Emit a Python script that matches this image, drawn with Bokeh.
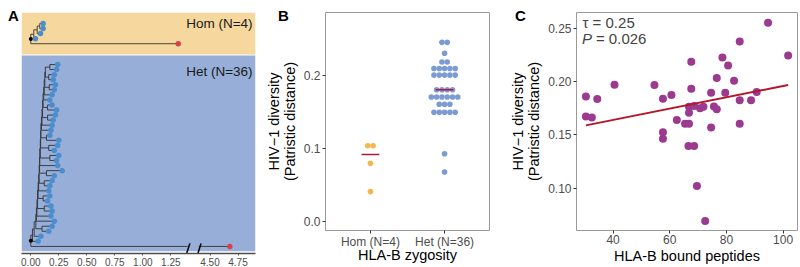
import numpy as np
from bokeh.plotting import figure
from bokeh.models import (Range1d, FixedTicker, CustomJSTickFormatter, Label,
                          NumeralTickFormatter, Div)
from bokeh.embed import file_html
from bokeh.resources import INLINE

FONT = "Liberation Sans"

# ---------------- Panel A: phylogenetic trees ----------------
hom_tip_dist = [0.110, 0.110, 0.087, 0.042]
hom_groups = [2, 1, 1]
hom_group_mrca = [0.080, None, None]
hom_spine = [0.057, 0.027]
hom_outgroup_dist = 1.316

het_tip_dist = [0.24, 0.23, 0.21, 0.20, 0.22, 0.21, 0.19, 0.17, 0.19, 0.23,
                0.22, 0.20, 0.19, 0.18, 0.17, 0.25, 0.24, 0.21, 0.25, 0.23,
                0.24, 0.28, 0.21, 0.19, 0.17, 0.16, 0.17, 0.15, 0.18, 0.19,
                0.18, 0.21, 0.19, 0.16, 0.09, 0.065]
het_groups = [2, 2, 2, 1, 1, 2, 2, 1, 1, 2, 2, 2, 1, 2, 2, 1, 2, 2, 1, 1, 2, 1, 1]
het_group_mrca = [0.17, 0.16, 0.165, None, None, 0.15, 0.15, None, None, 0.14,
                  0.16, 0.17, None, 0.14, 0.12, None, 0.11, 0.12, None, None,
                  0.10, None, None]
het_spine = [0.13, 0.125, 0.12, 0.115, 0.11, 0.105, 0.10, 0.095, 0.09, 0.088,
             0.085, 0.08, 0.078, 0.075, 0.07, 0.065, 0.06, 0.055, 0.05, 0.045,
             0.03, 0.015]
het_outgroup_dist = 4.677

tree_ticks = [0.0, 0.25, 0.5, 0.75, 1.0, 1.25, 4.5, 4.75]
band_labels = ["Hom (N=4)", "Het (N=36)"]
panel_letters = ["A", "B", "C"]

# ---------------- Panel B: dot plot ----------------
zyg_labels = ["Hom (N=4)", "Het (N=36)"]
hom_div = [0.104, 0.104, 0.080, 0.041]
het_div = [0.246, 0.246, 0.231, 0.219, 0.219,
           0.210, 0.210, 0.210, 0.210, 0.210,
           0.201, 0.201, 0.201, 0.201, 0.201,
           0.181, 0.181, 0.181, 0.181,
           0.171, 0.171, 0.171, 0.171, 0.171, 0.171,
           0.161, 0.161, 0.161,
           0.150, 0.150, 0.150, 0.150, 0.150,
           0.093, 0.068]

# ---------------- Panel C: scatter ----------------
peptides = [30.4, 30.4, 32.5, 34.4, 40.5, 54.6, 57.6, 57.6, 57.6, 60.6,
            62.5, 65.4, 66.8, 66.8, 66.8, 66.6, 67.6, 67.6, 68.6, 68.6,
            70.7, 71.9, 69.6, 72.5, 74.6, 74.6, 75.6, 76.6, 76.6, 78.6,
            79.6, 80.6, 82.7, 84.7, 84.7, 84.7, 88.7, 90.7, 94.7, 101.8]
diversity = [0.1862, 0.1672, 0.1663, 0.1838, 0.1972, 0.1969, 0.1840, 0.1525, 0.1463, 0.1876,
             0.1641, 0.1606, 0.1606, 0.1709, 0.1765, 0.1396, 0.2188, 0.1934, 0.1397, 0.1772,
             0.1750, 0.1765, 0.1019, 0.0691, 0.1897, 0.1570, 0.1766, 0.1740, 0.2034, 0.2228,
             0.1897, 0.2153, 0.2009, 0.2378, 0.1825, 0.1606, 0.1825, 0.1903, 0.2553, 0.2247]
fit_intercept = 0.1428
fit_slope = 0.000532
tau_text = "τ = 0.25"
p_value_text = "= 0.026"

# =====================================================================
BREAK_LO, BREAK_HI = 1.40, 4.40
SHIFT = 2.90


def disp(v):
    return v if v <= BREAK_LO + 1e-9 else v - SHIFT


def build_tree(tip_dist, groups, group_mrca, spine, outgroup):
    clades, i = [], 0
    for g, n in enumerate(groups):
        tips = [("tip", tip_dist[i + j], "in") for j in range(n)]
        i += n
        clades.append(tips[0] if n == 1 else ("node", group_mrca[g], tips))
    node = clades[0]
    for k in range(1, len(clades)):
        node = ("node", spine[k - 1], [node, clades[k]])
    return ("node", 0.0, [node, ("tip", outgroup, "out")])


def layout_tree(tree, first_slot):
    hs, vs, tips = [], [], []
    counter = [first_slot]

    def rec(node, px):
        if node[0] == "tip":
            y = counter[0]
            counter[0] += 1
            tips.append((node[1], y, node[2]))
            hs.append((px, node[1], y))
            return y
        ys = [rec(c, node[1]) for c in node[2]]
        y = sum(ys) / len(ys)
        vs.append((node[1], min(ys), max(ys)))
        if px is not None:
            hs.append((px, node[1], y))
        return y

    root_y = rec(tree, None)
    return hs, vs, tips, root_y


pA = figure(frame_width=234, frame_height=241, x_range=Range1d(-0.083, 2.006),
            y_range=Range1d(47.7, 0), output_backend="svg", toolbar_location=None,
            y_axis_location=None, min_border_left=21, min_border_right=10,
            min_border_top=12, min_border_bottom=14, outline_line_color=None,
            border_fill_color=None)
pA.styles = {"position": "absolute", "left": "0px", "top": "0px"}
pA.xgrid.visible = False
pA.ygrid.visible = False

x0r, x1r = pA.x_range.start, pA.x_range.end
pA.quad(left=[x0r], right=[x1r], top=[0], bottom=[8.33], fill_color="#F6D79E",
        line_color=None)
pA.quad(left=[x0r], right=[x1r], top=[8.5], bottom=[47.25], fill_color="#96AED8",
        line_color=None)

seg_x0, seg_y0, seg_x1, seg_y1 = [], [], [], []
tip_x, tip_y, tip_c = [], [], []
root_x, root_y = [], []
for tree, first in [(build_tree(hom_tip_dist, hom_groups, hom_group_mrca, hom_spine, hom_outgroup_dist), 2.18),
                    (build_tree(het_tip_dist, het_groups, het_group_mrca, het_spine, het_outgroup_dist), 10.3)]:
    hs, vs, tips, ry = layout_tree(tree, first)
    for (a, b, y) in hs:
        if b > BREAK_HI and a < BREAK_LO:
            pieces = [(a, BREAK_LO), (BREAK_HI, b)]
        else:
            pieces = [(a, b)]
        for (u, w) in pieces:
            seg_x0.append(disp(u)); seg_x1.append(disp(w))
            seg_y0.append(y); seg_y1.append(y)
    for (x, ya, yb) in vs:
        seg_x0.append(disp(x)); seg_x1.append(disp(x))
        seg_y0.append(ya); seg_y1.append(yb)
    for (x, y, kind) in tips:
        tip_x.append(disp(x)); tip_y.append(y)
        tip_c.append("#4C8DCD" if kind == "in" else "#D8414C")
    root_x.append(0.0); root_y.append(ry)

pA.segment(seg_x0, seg_y0, seg_x1, seg_y1, line_color="#333333", line_width=0.9)
pA.scatter(tip_x, tip_y, size=5.5, fill_color=tip_c, line_color=None)
pA.scatter(root_x, root_y, size=4, fill_color="black", line_color=None)

# axis break marks
bx = [disp(BREAK_LO), disp(BREAK_HI)]
pA.segment([b + 0.02 for b in bx], [45.7] * 2, [b - 0.02 for b in bx], [48.5] * 2,
           line_color="black", line_width=1.5)

pA.xaxis.ticker = FixedTicker(ticks=[disp(v) for v in tree_ticks])
pA.xaxis.formatter = CustomJSTickFormatter(
    code="return (tick > 1.45 ? tick + 2.9 : tick).toFixed(2);")
pA.xaxis.axis_line_color = "#4d4d4d"
pA.xaxis.axis_line_width = 1.3
pA.xaxis.major_tick_out = 2
pA.xaxis.major_tick_in = 0
pA.xaxis.minor_tick_out = 0
pA.xaxis.minor_tick_in = 0
pA.xaxis.major_tick_line_color = "#4d4d4d"
pA.xaxis.major_label_text_font = FONT
pA.xaxis.major_label_text_font_size = "10px"
pA.xaxis.major_label_text_color = "#4d4d4d"
pA.xaxis.major_label_standoff = 2

for txt, yy in zip(band_labels, [2.2, 11.6]):
    pA.add_layout(Label(x=1.98, y=yy, text=txt, text_align="right",
                        text_baseline="middle", text_font=FONT,
                        text_font_size="13.5px", text_color="#1a1a1a"))


def style_axes(p, title_standoff):
    p.xgrid.visible = False
    p.ygrid.visible = False
    p.outline_line_color = "#9a9a9a"
    p.outline_line_width = 1
    p.border_fill_color = None
    p.background_fill_color = "white"
    for ax in [p.xaxis[0], p.yaxis[0]]:
        ax.axis_line_color = None
        ax.major_tick_out = 3
        ax.major_tick_in = 0
        ax.minor_tick_out = 0
        ax.minor_tick_in = 0
        ax.major_tick_line_color = "#333333"
        ax.major_label_text_font = FONT
        ax.major_label_text_font_size = "12px"
        ax.major_label_text_color = "#4d4d4d"
        ax.major_label_standoff = 2
        ax.axis_label_text_font = FONT
        ax.axis_label_text_font_size = "14.5px"
        ax.axis_label_text_font_style = "normal"
        ax.axis_label_text_color = "black"
        ax.axis_label_text_line_height = 1.0
    p.xaxis[0].major_label_standoff = 1
    p.xaxis[0].axis_label_standoff = title_standoff
    p.yaxis[0].axis_label_standoff = 3


# ---------------- Panel B ----------------
pB = figure(frame_width=164, frame_height=218, x_range=Range1d(-0.606, 1.606),
            y_range=Range1d(-0.0124, 0.287), output_backend="svg",
            toolbar_location=None, min_border_left=75, min_border_right=10,
            min_border_top=12, min_border_bottom=30)
pB.styles = {"position": "absolute", "left": "250px", "top": "0px"}
style_axes(pB, -5)
step = 0.0715
for pos, vals, col in [(0, hom_div, "#F2B84A"), (1, het_div, "#7C9BD4")]:
    xs, ys = [], []
    for u in sorted(set(vals)):
        n = vals.count(u)
        for i in range(n):
            xs.append(pos + (i - (n - 1) / 2) * step)
            ys.append(u)
    pB.scatter(xs, ys, size=5.6, fill_color=col, line_color=None)
    med = float(np.median(vals))
    pB.segment([pos - 0.12], [med], [pos + 0.12], [med], line_color="#B5173A",
               line_width=1.6)
pB.xaxis.ticker = FixedTicker(ticks=[0, 1])
pB.xaxis.major_label_overrides = {0: zyg_labels[0], 1: zyg_labels[1]}
pB.yaxis.ticker = FixedTicker(ticks=[0.0, 0.1, 0.2])
pB.yaxis.formatter = NumeralTickFormatter(format="0.0")
pB.xaxis.axis_label = "HLA-B zygosity"
pB.yaxis.axis_label = "HIV\u22121 diversity\n(Patristic distance)"

# ---------------- Panel C ----------------
pC = figure(frame_width=221, frame_height=218, x_range=Range1d(27.08, 105.1),
            y_range=Range1d(0.0602, 0.265), output_backend="svg",
            toolbar_location=None, min_border_left=85, min_border_right=3,
            min_border_top=12, min_border_bottom=30)
pC.styles = {"position": "absolute", "left": "491px", "top": "0px"}
style_axes(pC, 1)
pC.scatter(peptides, diversity, size=8, fill_color="#9B3A8E", line_color=None)
xl = np.array([min(peptides), max(peptides)])
pC.line(xl, fit_intercept + fit_slope * xl, line_color="#B2182B", line_width=2)
pC.xaxis.ticker = FixedTicker(ticks=[40, 60, 80, 100])
pC.yaxis.ticker = FixedTicker(ticks=[0.10, 0.15, 0.20, 0.25])
pC.yaxis.formatter = NumeralTickFormatter(format="0.00")
pC.xaxis.axis_label = "HLA-B bound peptides"
pC.yaxis.axis_label = "HIV\u22121 diversity\n(Patristic distance)"
pC.add_layout(Label(x=29.2, y=0.2556, text=tau_text, text_font=FONT,
                    text_font_size="15px", text_baseline="middle"))
pC.add_layout(Label(x=29.0, y=0.2406, text="P", text_font=FONT,
                    text_font_style="italic", text_font_size="15px",
                    text_baseline="middle"))
pC.add_layout(Label(x=29.0, y=0.2406, x_offset=14, text=p_value_text, text_font=FONT,
                    text_font_size="15px", text_baseline="middle"))

# ---------------- panel letters ----------------
letters = []
for letter, left in zip(panel_letters, [3, 273, 510]):
    letters.append(Div(text=letter, styles={
        "position": "absolute", "left": f"{left}px", "top": "2px",
        "font-family": FONT, "font-size": "15px", "font-weight": "bold",
        "color": "black", "line-height": "17px"}))

p = [pA, pB, pC] + letters
open("out.html", "w").write(file_html(p, INLINE))
